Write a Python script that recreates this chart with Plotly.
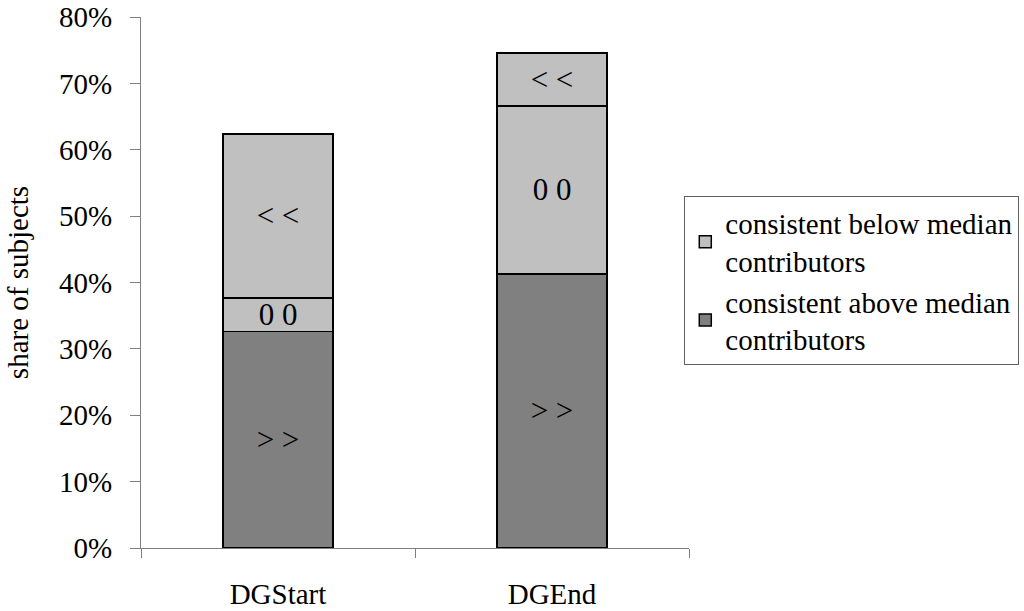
import plotly.graph_objects as go

categories = ["DGStart", "DGEnd"]
above = [0.326, 0.413]      # consistent above median (>>)
neutral = [0.051, 0.253]    # 0 0
below = [0.247, 0.080]      # consistent below median (<<)
y_ticks = [0, 0.1, 0.2, 0.3, 0.4, 0.5, 0.6, 0.7, 0.8]
y_ticklabels = ["0%", "10%", "20%", "30%", "40%", "50%", "60%", "70%", "80%"]

FONT = "Liberation Serif"
DARK = "#808080"
LIGHT = "#C0C0C0"
line = dict(color="black", width=1.5)
tfont = dict(family=FONT, size=29, color="black")
bfont = dict(family=FONT, size=31, color="black")

fig = go.Figure()
fig.add_trace(go.Bar(x=categories, y=above, name="consistent above median<br>contributors",
                     legendgroup="a",
                     marker=dict(color=DARK, line=line), text=["> >"] * 2,
                     textposition="inside", insidetextanchor="middle", textangle=0,
                     constraintext="none", textfont=bfont, hoverinfo="skip"))
fig.add_trace(go.Bar(x=categories, y=neutral, name="neutral", showlegend=False,
                     legendgroup="n",
                     marker=dict(color=LIGHT, line=line), text=["0 0"] * 2,
                     textposition="inside", insidetextanchor="middle", textangle=0,
                     constraintext="none", textfont=bfont, hoverinfo="skip"))
fig.add_trace(go.Bar(x=categories, y=below, name="consistent below median<br>contributors",
                     legendgroup="b",
                     marker=dict(color=LIGHT, line=line), text=["< <"] * 2,
                     textposition="inside", insidetextanchor="middle", textangle=0,
                     constraintext="none", textfont=bfont, hoverinfo="skip"))

fig.update_layout(
    width=1024, height=611,
    barmode="stack", bargap=0.6,
    paper_bgcolor="white", plot_bgcolor="white",
    margin=dict(l=141, r=335, t=17, b=63, autoexpand=False),
    font=dict(family=FONT, size=29, color="black"),
    showlegend=True,
    legend=dict(x=0.9914, y=0.662, xanchor="left", yanchor="top",
                traceorder="reversed", tracegroupgap=8,
                bordercolor="#606060", borderwidth=1,
                font=dict(family=FONT, size=29, color="black"),
                bgcolor="white", itemclick=False),
    xaxis=dict(showline=True, linecolor="#808080", linewidth=1,
               ticks="outside", tickson="boundaries", ticklen=9, tickcolor="#808080",
               showgrid=False, tickfont=tfont, ticklabelstandoff=20, automargin=False),
    yaxis=dict(range=[0, 0.8], tickvals=y_ticks, ticktext=y_ticklabels,
               showline=True, linecolor="#808080", linewidth=1,
               ticks="outside", ticklen=10, tickcolor="#808080",
               showgrid=False, zeroline=False, tickfont=tfont, automargin=False,
               ticklabelstandoff=12, ticklabeloverflow="allow",
               title=dict(text="share of subjects", font=tfont, standoff=21)),
)

fig.write_html("out.html", config={"displayModeBar": False},
               post_script="document.body.style.margin='0';document.body.style.padding='0';")
